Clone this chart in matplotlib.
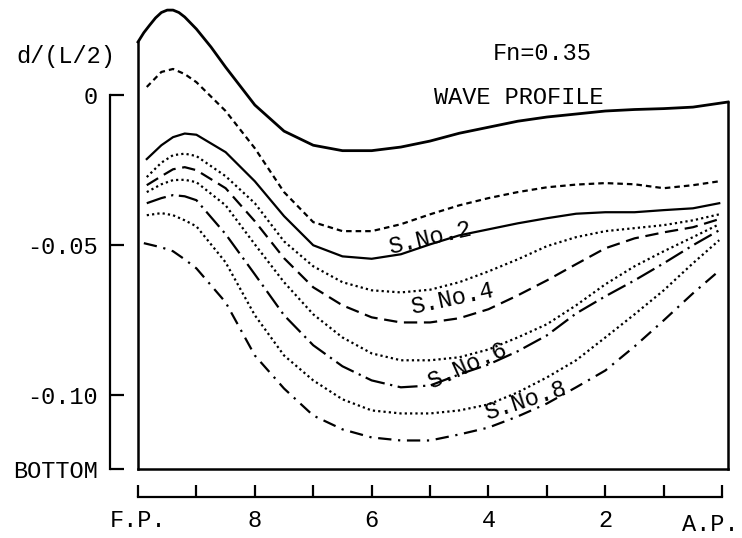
import matplotlib
matplotlib.use('Agg')
from matplotlib import pyplot as plt
from matplotlib.transforms import ScaledTranslation
import numpy as np

plt.rcParams['font.family'] = ['Liberation Mono', 'DejaVu Sans Mono']

# station positions (F.P. = 10, A.P. = 0)
st = [9.85, 9.6, 9.4, 9.2, 9.0, 8.5, 8.0, 7.5, 7.0, 6.5, 6.0, 5.5,
      5.0, 4.5, 4.0, 3.5, 3.0, 2.5, 2.0, 1.5, 1.0, 0.5, 0.05]

wave_x = [10.0, 9.9, 9.8, 9.7, 9.6, 9.5, 9.4, 9.3, 9.2, 9.0, 8.75, 8.5, 8.0,
          7.5, 7.0, 6.5, 6.0, 5.5, 5.0, 4.5, 4.0, 3.5, 3.0, 2.5, 2.0, 1.5,
          1.0, 0.5, -0.1]
wave_y = [0.0177, 0.0208, 0.0233, 0.0257, 0.0275, 0.0283, 0.0283, 0.0275,
          0.026, 0.022, 0.016, 0.0093, -0.0033, -0.012, -0.0167, -0.0185,
          -0.0185, -0.0173, -0.0153, -0.0127, -0.0107, -0.0087, -0.0073,
          -0.0063, -0.0053, -0.0048, -0.0045, -0.004, -0.0023]

s1 = [0.0027, 0.0077, 0.0087, 0.007, 0.0043, -0.0053, -0.0177, -0.0323,
      -0.0423, -0.0453, -0.0453, -0.043, -0.0397, -0.0367, -0.0343, -0.0323,
      -0.0307, -0.0298, -0.0293, -0.0297, -0.031, -0.030, -0.0287]
s2 = [-0.0213, -0.0167, -0.014, -0.0128, -0.0132, -0.019, -0.0287, -0.0403,
      -0.050, -0.0537, -0.0545, -0.053, -0.0497, -0.0467, -0.0447, -0.0427,
      -0.041, -0.0395, -0.039, -0.039, -0.0383, -0.0377, -0.036]
s3 = [-0.0273, -0.0225, -0.020, -0.0195, -0.0203, -0.027, -0.036, -0.0487,
      -0.057, -0.0623, -0.065, -0.0657, -0.0648, -0.0623, -0.0587, -0.0547,
      -0.0503, -0.0473, -0.0453, -0.0443, -0.0433, -0.0417, -0.0397]
s4 = [-0.030, -0.027, -0.0247, -0.024, -0.025, -0.031, -0.042, -0.0543,
      -0.064, -0.070, -0.074, -0.0757, -0.0757, -0.0743, -0.0713, -0.0667,
      -0.0617, -0.0563, -0.051, -0.0477, -0.0457, -0.044, -0.0413]
s5 = [-0.0323, -0.0297, -0.0283, -0.0282, -0.029, -0.0367, -0.0497, -0.0623,
      -0.073, -0.0807, -0.086, -0.0883, -0.0883, -0.0873, -0.0847, -0.0807,
      -0.0763, -0.070, -0.063, -0.057, -0.052, -0.0473, -0.043]
s6 = [-0.036, -0.0343, -0.0333, -0.0337, -0.035, -0.0463, -0.0597, -0.0733,
      -0.0833, -0.0903, -0.095, -0.0973, -0.0967, -0.093, -0.0897, -0.0853,
      -0.080, -0.0727, -0.067, -0.0617, -0.056, -0.050, -0.045]
s7 = [-0.040, -0.0393, -0.040, -0.0417, -0.0437, -0.0557, -0.0733, -0.0867,
      -0.095, -0.1013, -0.105, -0.106, -0.106, -0.105, -0.103, -0.099,
      -0.094, -0.0883, -0.0807, -0.073, -0.065, -0.056, -0.0483]
s8_x = [9.9, 9.6, 9.4, 9.2, 9.0, 8.5, 8.0, 7.5, 7.0, 6.5, 6.0, 5.5,
        5.0, 4.5, 4.0, 3.5, 3.0, 2.5, 2.0, 1.5, 1.0, 0.5, 0.1]
s8 = [-0.0493, -0.0507, -0.052, -0.0547, -0.0577, -0.069, -0.0867, -0.0977,
      -0.1067, -0.1113, -0.114, -0.115, -0.115, -0.113, -0.1107, -0.107,
      -0.1027, -0.0973, -0.0917, -0.0837, -0.075, -0.066, -0.0593]

bottom = -0.1245
stern = -0.1
y_ticks = [0, -0.05, -0.10, bottom]
y_labels = ['0', '-0.05', '-0.10', 'BOTTOM']
x_ticks = [10, 9, 8, 7, 6, 5, 4, 3, 2, 1, 0]
x_labels = ['F.P.', '', '8', '', '6', '', '4', '', '2', '', 'A.P.']

fs = 17
fig = plt.figure(figsize=(7.42, 5.38), dpi=100)
ax = fig.add_axes([138/742, 1-469/538, 590/742, 464/538])

# hull outline
ax.plot([10, 10], [bottom, wave_y[0]], color='black', lw=1.8, clip_on=False)
ax.plot([10, stern], [bottom, bottom], color='black', lw=1.8, clip_on=False)
ax.plot([stern, stern], [bottom, wave_y[-1]], color='black', lw=1.8, clip_on=False)

ax.plot(wave_x, wave_y, color='black', lw=2.0, clip_on=False)
lw = 1.6
ax.plot(st, s1, color='black', lw=lw, ls=(0, (2.5, 1.8)))
ax.plot(st, s2, color='black', lw=lw, ls='-')
ax.plot(st, s3, color='black', lw=lw, ls=(0, (1.0, 1.4)))
ax.plot(st, s4, color='black', lw=lw, ls=(0, (6, 3)))
ax.plot(st, s5, color='black', lw=lw, ls=(0, (1.0, 1.4)))
ax.plot(st, s6, color='black', lw=lw, ls=(0, (9, 2.5, 1, 2.5)))
ax.plot(st, s7, color='black', lw=lw, ls=(0, (1.0, 1.4)))
ax.plot(s8_x, s8, color='black', lw=lw, ls=(0, (6, 3, 1, 3)))

ax.set_xlim(10, stern)
ax.set_ylim(bottom, 0.03)

for side in ['top', 'right']:
    ax.spines[side].set_visible(False)
ax.spines['left'].set_position(('outward', 20))
ax.spines['bottom'].set_position(('outward', 20))
ax.spines['left'].set_bounds(bottom, 0)
ax.spines['bottom'].set_bounds(0, 10)
ax.spines['left'].set_linewidth(1.6)
ax.spines['bottom'].set_linewidth(1.6)

ax.set_yticks(y_ticks)
ax.set_yticklabels(y_labels)
ax.set_xticks(x_ticks)
ax.set_xticklabels(x_labels)
ax.tick_params(axis='y', direction='in', length=10, width=1.6, pad=9, labelsize=fs)
ax.tick_params(axis='x', direction='in', length=9, width=1.6, pad=9, labelsize=fs)
ap = ax.get_xticklabels()[-1]
ap.set_transform(ap.get_transform() + ScaledTranslation(-0.12, -0.04, fig.dpi_scale_trans))

ax.text(3.08, 0.014, 'Fn=0.35', ha='center', va='center', fontsize=fs)
ax.text(3.48, -0.0007, 'WAVE PROFILE', ha='center', va='center', fontsize=fs)
ax.text(5.0, -0.0477, 'S.No.2', ha='center', va='center', fontsize=fs, rotation=13)
ax.text(4.62, -0.0677, 'S.No.4', ha='center', va='center', fontsize=fs, rotation=12)
ax.text(4.37, -0.090, 'S.No.6', ha='center', va='center', fontsize=fs, rotation=24)
ax.text(3.36, -0.1017, 'S.No.8', ha='center', va='center', fontsize=fs, rotation=18)
fig.text(16/742, 1-57/538, 'd/(L/2)', ha='left', va='center', fontsize=fs)

fig.savefig('out.png', dpi=100)
